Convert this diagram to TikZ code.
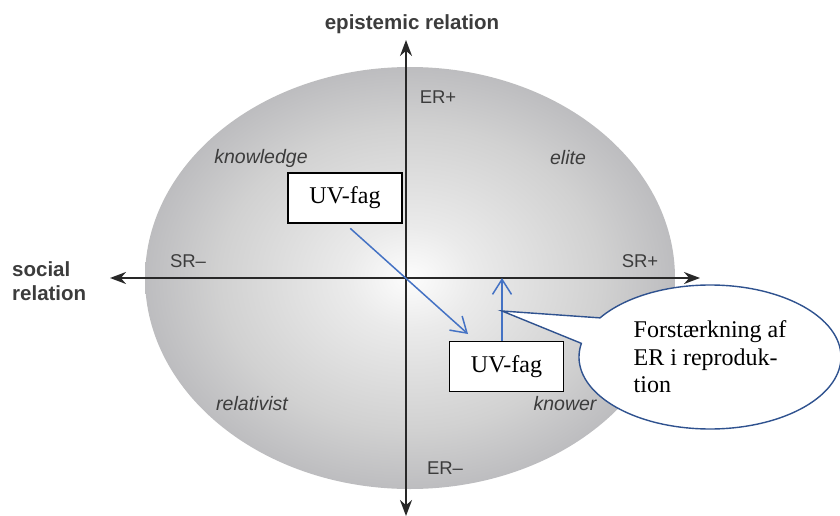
\documentclass[tikz,border=0pt]{standalone}
\usepackage{fontspec}
\setmainfont{Liberation Serif}
\newfontfamily\hvfont{Liberation Sans}
\usetikzlibrary{arrows.meta,shapes.callouts,shapes.geometric}
\definecolor{axisgray}{RGB}{40,40,40}
\definecolor{txtgray}{RGB}{60,60,60}
\definecolor{ofblue}{RGB}{68,114,196}
\definecolor{ofdark}{RGB}{47,82,143}
\pgfdeclareradialshading{ellshade}{\pgfpoint{0bp}{0bp}}{rgb(0bp)=(0.99,0.99,0.99); rgb(6bp)=(0.92,0.92,0.92); rgb(18bp)=(0.82,0.82,0.82); rgb(25bp)=(0.74,0.74,0.75); rgb(50bp)=(0.74,0.74,0.75)}
\begin{document}
\begin{tikzpicture}[x=1pt,y=-1pt,
  axislbl/.style={font=\hvfont\fontsize{20.5}{24}\selectfont\bfseries, text=txtgray, inner sep=0pt},
  pole/.style={font=\hvfont\fontsize{18.5}{21}\selectfont, text=txtgray, inner sep=0pt},
  quad/.style={font=\hvfont\itshape\fontsize{19.5}{22}\selectfont, text=txtgray, inner sep=0pt},
  uvbox/.style={draw=black, line width=1.3pt, fill=white, minimum width=114pt, minimum height=50pt, inner sep=0pt, font=\fontsize{24}{28}\selectfont},
  axis/.style={draw=axisgray, line width=2pt, -{Stealth[length=16pt,width=12pt]}},
  bluearrow/.style={draw=ofblue, line width=1.5pt, -{Straight Barb[length=15pt,width=19pt]}}
]
\useasboundingbox (0,0) rectangle (840,516);
% shaded ellipse
\path[shading=ellshade] (410,278) ellipse [x radius=265, y radius=211];
% axes
\coordinate (o) at (406,278);
\coordinate (xl) at (110,278);
\coordinate (xr) at (700,278);
\coordinate (yt) at (406,40);
\coordinate (yb) at (406,516);
\draw[axis] (o) -- (xl);
\draw[axis] (o) -- (xr);
\draw[axis] (o) -- (yt);
\draw[axis] (o) -- (yb);
% labels
\node[axislbl] (er) at (412,24) {epistemic relation};
\node[axislbl, anchor=west, align=left, font=\hvfont\fontsize{20.5}{24}\selectfont\bfseries] (sr) at (12,281) {social\\relation};
\node[pole] (erp) at (438,97) {ER+};
\node[pole] (erm) at (445,468) {ER–};
\node[pole] (srm) at (188,261) {SR–};
\node[pole] (srp) at (640,261) {SR+};
\node[quad] (kn) at (261,158) {knowledge};
\node[quad] (el) at (568,158) {elite};
\node[quad] (rel) at (252,404) {relativist};
\node[quad] (kw) at (565,404) {knower};
% boxes
\node[uvbox] (uv1) at (345,198) {UV-fag};
\node[uvbox] (uv2) at (506.5,366.5) {UV-fag};
% blue arrows
\coordinate (a1e) at (468,334);
\draw[bluearrow, shorten <=7pt] (uv1.south) -- (a1e);
\coordinate (a2s) at (502,341);
\coordinate (a2e) at (502,278);
\draw[bluearrow] (a2s) -- (a2e);
% callout
\coordinate (tip) at (502,311);
\node[ellipse callout, draw=ofdark, line width=1.4pt, fill=white,
      minimum width=262pt, minimum height=144pt, inner sep=0pt,
      callout absolute pointer={(tip)}, callout pointer arc=22,
      align=left, font=\fontsize{24}{27.5}\selectfont] (co) at (710,357)
  {Forstærkning af\\ER i reproduk-\\tion};
\end{tikzpicture}
\end{document}
